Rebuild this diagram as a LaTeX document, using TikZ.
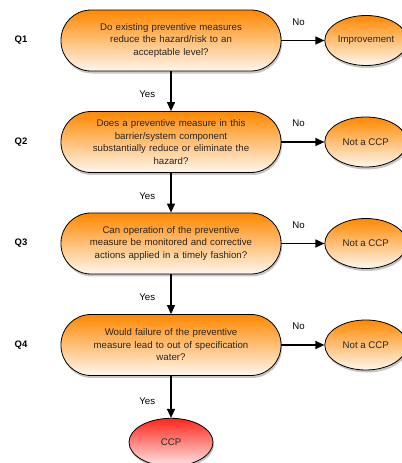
\documentclass[tikz,border=0pt]{standalone}
\usepackage{fontspec}
\setmainfont{Liberation Sans}
\usetikzlibrary{positioning, shapes, shadows, arrows.meta}
\definecolor{hzorange}{RGB}{255,136,0}
\definecolor{hzpale}{RGB}{255,247,238}
\definecolor{hzred}{RGB}{255,38,28}
\definecolor{hzpink}{RGB}{255,230,230}

\begin{document}
\begin{tikzpicture}[
  thick,
  font=\fontsize{9.7}{12.5}\selectfont,
  node distance=39.7bp and 43bp,
  question/.style={
    draw,
    rectangle,
    rounded corners=30bp,
    minimum width=220bp,
    minimum height=61bp,
    text width=180bp,
    align=center,
    text=black!85,
    top color=hzorange,
    bottom color=hzpale,
    drop shadow={shadow xshift=1bp, shadow yshift=-2.5bp, opacity=0.45}
    },
  outcome/.style={
    draw,
    ellipse,
    minimum width=82bp,
    minimum height=50bp,
    inner sep=1bp,
    text=black!85,
    top color=hzorange,
    bottom color=hzpale,
    drop shadow={shadow xshift=1bp, shadow yshift=-2.5bp, opacity=0.45}
    },
  verdict/.style={outcome, top color=hzred, bottom color=hzpink, minimum width=84bp, minimum height=48bp},
  qlabel/.style={font=\fontsize{9.5}{11}\selectfont\bfseries},
  flow/.style={line width=1.2bp, -{Triangle[length=9bp, width=8bp]}}
]

\useasboundingbox (0,0) rectangle (402bp,-463bp);

% questions
\node[question] (q1) at (171bp,-40.5bp)
  {Do existing preventive measures\\ reduce the hazard/risk to an\\ acceptable level?};
\node[question, below=of q1] (q2)
  {Does a preventive measure in this\\ barrier/system component\\ substantially reduce or eliminate the\\ hazard?};
\node[question, below=of q2] (q3)
  {Can operation of the preventive\\ measure be monitored and corrective\\ actions applied in a timely fashion?};
\node[question, below=of q3] (q4)
  {Would failure of the preventive\\ measure lead to out of specification\\ water?};

% outcomes
\node[outcome, right=of q1] (imp) {Improvement};
\node[outcome, right=of q2] (no2) {Not a CCP};
\node[outcome, right=of q3] (no3) {Not a CCP};
\node[outcome, right=of q4] (no4) {Not a CCP};
\node[verdict, below=42bp of q4] (ccp) {CCP};

% row labels
\coordinate (lx) at (21bp,0);
\node[qlabel] (l1) at (q1 -| lx) {Q1};
\node[qlabel] (l2) at (q2 -| lx) {Q2};
\node[qlabel] (l3) at (q3 -| lx) {Q3};
\node[qlabel] (l4) at (q4 -| lx) {Q4};

% arrows
\draw[flow] (q1) -- node[left=12bp, pos=0.58]{Yes} (q2);
\draw[flow] (q2) -- node[left=12bp, pos=0.58]{Yes} (q3);
\draw[flow] (q3) -- node[left=12bp, pos=0.58]{Yes} (q4);
\draw[flow] (q4) -- node[left=12bp, pos=0.6]{Yes} (ccp);

\draw[flow] (q1) -- node[above=11bp, pos=0.4]{No} (imp);
\draw[flow] (q2) -- node[above=11bp, pos=0.4]{No} (no2);
\draw[flow] (q3) -- node[above=11bp, pos=0.4]{No} (no3);
\draw[flow] (q4) -- node[above=11bp, pos=0.4]{No} (no4);

\end{tikzpicture}
\end{document}
